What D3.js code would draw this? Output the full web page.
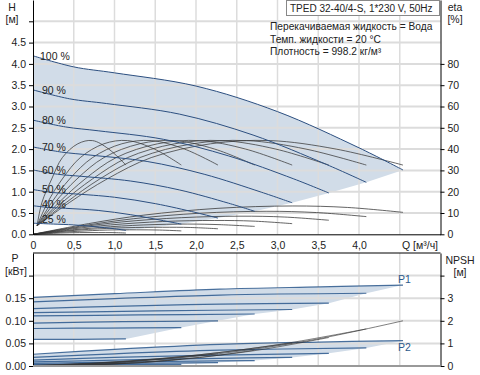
<!DOCTYPE html>
<html>
<head>
<meta charset="utf-8">
<script src="https://cdn.jsdelivr.net/npm/d3@7"></script>
<style>
body{margin:0;background:#fff;}
svg text{font-family:"Liberation Sans",Arial,sans-serif;font-size:10.5px;fill:#222;}
svg text.info{font-size:10.2px;}
</style>
</head>
<body>
<div id="chart"></div>
<script>
// speed labels, top to bottom
const speedLabels = ['100 %','90 %','80 %','70 %','60 %','50 %','40 %','25 %'];

// head curves H [m] vs Q [m3/h]
const head100 = [[0,4.19],[0.5,3.93],[1,3.79],[2,3.48],[3,2.88],[4,2.03],[4.54,1.51]];
const head90  = [[0,3.39],[0.45,3.18],[0.9,3.07],[1.8,2.82],[2.7,2.33],[3.6,1.64],[4.09,1.22]];
const head80  = [[0,2.68],[0.4,2.52],[0.8,2.43],[1.6,2.23],[2.4,1.84],[3.2,1.30],[3.63,0.97]];
const head70  = [[0,2.05],[0.35,1.93],[0.7,1.86],[1.4,1.71],[2.1,1.41],[2.8,0.99],[3.18,0.74]];
const head60  = [[0,1.51],[0.3,1.41],[0.6,1.36],[1.2,1.25],[1.8,1.04],[2.4,0.73],[2.72,0.54]];
const head50  = [[0,1.05],[0.25,0.98],[0.5,0.95],[1,0.87],[1.5,0.72],[2,0.51],[2.27,0.38]];
const head40  = [[0,0.67],[0.2,0.63],[0.4,0.61],[0.8,0.56],[1.2,0.46],[1.6,0.32],[1.82,0.24]];
const head25  = [[0,0.26],[0.13,0.25],[0.25,0.24],[0.5,0.22],[0.75,0.18],[1,0.13],[1.14,0.09]];

// pump efficiency eta [%]
const etaPump100 = [[0.05,4],[0.45,15],[0.91,26],[1.45,36],[2.18,42.5],[2.91,44],[3.72,40],[4.54,32.5]];
const etaPump90  = [[0.05,4],[0.41,15],[0.82,26],[1.31,36],[1.96,42.5],[2.62,44],[3.35,40],[4.09,32.5]];
const etaPump80  = [[0.05,4],[0.36,15],[0.73,26],[1.16,36],[1.74,42.5],[2.32,44],[2.98,40],[3.63,32.5]];
const etaPump70  = [[0.05,4],[0.32,15],[0.64,26],[1.02,36],[1.53,42.5],[2.04,44],[2.61,40],[3.18,32.5]];
const etaPump60  = [[0.05,4],[0.27,15],[0.54,26],[0.87,36],[1.31,42.5],[1.74,44],[2.23,40],[2.72,32.5]];
const etaPump50  = [[0.05,4],[0.23,15],[0.45,26],[0.73,36],[1.09,42.5],[1.45,44],[1.86,40],[2.27,32.5]];
const etaPump40  = [[0.05,4],[0.18,15],[0.36,26],[0.58,36],[0.87,42.5],[1.16,44],[1.49,40],[1.82,32.5]];
const etaPump25  = [[0.05,4],[0.11,15],[0.23,26],[0.36,36],[0.55,42.5],[0.73,44],[0.93,40],[1.14,32.5]];

// total efficiency eta [%]
const etaTot100 = [[0,0],[0.68,5],[1.36,9],[2.27,12.2],[3.18,13.3],[3.86,12.6],[4.54,10.3]];
const etaTot90  = [[0,0],[0.61,4],[1.23,7.3],[2.05,9.9],[2.86,10.8],[3.48,10.2],[4.09,8.3]];
const etaTot80  = [[0,0],[0.54,3.2],[1.09,5.8],[1.82,7.8],[2.54,8.5],[3.09,8.1],[3.63,6.6]];
const etaTot70  = [[0,0],[0.48,2.5],[0.95,4.4],[1.59,6],[2.23,6.5],[2.7,6.2],[3.18,5]];
const etaTot60  = [[0,0],[0.41,1.8],[0.82,3.2],[1.36,4.4],[1.9,4.8],[2.31,4.5],[2.72,3.7]];
const etaTot50  = [[0,0],[0.34,1.3],[0.68,2.3],[1.14,3.1],[1.59,3.3],[1.93,3.2],[2.27,2.6]];
const etaTot40  = [[0,0],[0.27,0.8],[0.55,1.4],[0.91,2],[1.27,2.1],[1.55,2],[1.82,1.6]];
const etaTot25  = [[0,0],[0.17,0.3],[0.34,0.6],[0.57,0.8],[0.8,0.8],[0.97,0.8],[1.14,0.6]];

// input power P1 [kW]
const p1_100 = [[0,0.152],[1,0.160],[2.29,0.170],[3.52,0.175],[4.54,0.179]];
const p1_90  = [[0,0.142],[1,0.149],[2.29,0.157],[4.09,0.161]];
const p1_80  = [[0,0.127],[1,0.132],[2.3,0.137],[3.63,0.139]];
const p1_70  = [[0,0.118],[1.5,0.122],[3.18,0.125]];
const p1_60  = [[0,0.111],[1.3,0.113],[2.72,0.115]];
const p1_50  = [[0,0.095],[1.1,0.098],[2.27,0.100]];
const p1_40  = [[0,0.083],[0.9,0.084],[1.82,0.085]];
const p1_25  = [[0,0.059],[0.57,0.059],[1.14,0.060]];

// shaft power P2 [kW]
const p2_100 = [[0,0.026],[1,0.037],[2.29,0.048],[3.5,0.053],[4.54,0.056]];
const p2_90  = [[0,0.019],[1,0.027],[2.29,0.035],[4.09,0.040]];
const p2_80  = [[0,0.013],[1,0.019],[2.29,0.024],[3.63,0.028]];
const p2_70  = [[0,0.009],[1,0.013],[2.29,0.017],[3.18,0.019]];
const p2_60  = [[0,0.0056],[1,0.0085],[2,0.011],[2.72,0.012]];
const p2_50  = [[0,0.0033],[1,0.0055],[2.27,0.0075]];
const p2_40  = [[0,0.0017],[1,0.003],[1.82,0.0038]];
const p2_25  = [[0,0.0004],[0.6,0.0007],[1.14,0.0009]];

// NPSH [m]
const npsh100 = [[0,0],[1.14,0.18],[2.27,0.54],[3.41,1.14],[4.54,2.0]];
const npsh90  = [[0,0.02],[1.02,0.19],[2.05,0.5],[3.07,0.98],[4.09,1.64]];
const npsh80  = [[0,0],[0.91,0.1],[1.82,0.31],[2.72,0.68],[3.63,1.26]];
const npsh70  = [[0,0.02],[0.8,0.13],[1.59,0.33],[2.39,0.64],[3.18,1.02]];
const npsh60  = [[0,0],[0.68,0.05],[1.36,0.16],[2.04,0.37],[2.72,0.7]];
const npsh50  = [[0,0.02],[0.57,0.08],[1.14,0.19],[1.7,0.35],[2.27,0.54]];
const npsh40  = [[0,0],[0.46,0.02],[0.91,0.07],[1.37,0.16],[1.82,0.3]];
const npsh25  = [[0,0],[0.29,0.01],[0.57,0.03],[0.86,0.07],[1.14,0.13]];

// axis ticks
const flowTicks  = [0,0.5,1,1.5,2,2.5,3,3.5,4];
const flowGrid   = [0.5,1,1.5,2,2.5,3,3.5,4,4.5];
const headTicks  = [0,0.5,1,1.5,2,2.5,3,3.5,4,4.5,5];
const etaTicks   = [0,10,20,30,40,50,60,70,80];
const powerTicks = [0,0.05,0.1,0.15,0.2];
const npshTicks  = [0,1,2,3,4];

const infoLines = ['Перекачиваемая жидкость = Вода','Темп. жидкости = 20 °C','Плотность = 998.2 кг/м³'];

const headCurves = [head100,head90,head80,head70,head60,head50,head40,head25];
const etaPumpCurves = [etaPump100,etaPump90,etaPump80,etaPump70,etaPump60,etaPump50,etaPump40,etaPump25];
const etaTotCurves = [etaTot100,etaTot90,etaTot80,etaTot70,etaTot60,etaTot50,etaTot40,etaTot25];
const p1Curves = [p1_100,p1_90,p1_80,p1_70,p1_60,p1_50,p1_40,p1_25];
const p2Curves = [p2_100,p2_90,p2_80,p2_70,p2_60,p2_50,p2_40,p2_25];
const npshCurves = [npsh100,npsh90,npsh80,npsh70,npsh60,npsh50,npsh40,npsh25];

const width = 480, height = 375;
const svg = d3.select('#chart').append('svg')
    .attr('width', width).attr('height', height);

// scales
const x    = d3.scaleLinear([0,5],[33,440.5]);
const yH   = d3.scaleLinear([0,5.5],[234.3,0]);
const yEta = d3.scaleLinear([0,110],[234.3,0]);
const yP   = d3.scaleLinear([0,0.25],[366,253]);
const yN   = d3.scaleLinear([0,5],[366,253]);

const lineGen = (sy)=>d3.line().x(d=>x(d[0])).y(d=>sy(d[1])).curve(d3.curveCatmullRom.alpha(0.5));

// band between top curve, the end points of the middle curves and the bottom curve
function bandPath(curves, sy){
    const top = lineGen(sy)(curves[0]);
    const mid = curves.slice(1,-1).map(c=>c[c.length-1])
        .map(d=>`L${x(d[0])},${sy(d[1])}`).join('');
    const bottom = lineGen(sy)(curves[curves.length-1].slice().reverse()).replace(/^M/,'L');
    return top+mid+bottom+'Z';
}

const fillColor = '#d1dce8';

// fills
svg.append('path').attr('d', bandPath(headCurves, yH)).attr('fill', fillColor);
svg.append('path').attr('d', bandPath(p1Curves, yP)).attr('fill', fillColor);
svg.append('path').attr('d', bandPath(p2Curves, yP)).attr('fill', fillColor);

// grid
const grid = svg.append('g').attr('stroke','#dcdcdc');
grid.selectAll('line.vt').data(flowGrid).join('line')
    .attr('x1',d=>x(d)).attr('x2',d=>x(d)).attr('y1',0).attr('y2',yH(0))
    .attr('stroke-width',1.5);
grid.selectAll('line.vb').data(flowGrid).join('line')
    .attr('x1',d=>x(d)).attr('x2',d=>x(d)).attr('y1',yP(0.25)).attr('y2',yP(0))
    .attr('stroke-width',1.5);
grid.selectAll('line.ht').data(headTicks.slice(1)).join('line')
    .attr('x1',x(0)).attr('x2',x(5)).attr('y1',d=>yH(d)).attr('y2',d=>yH(d))
    .attr('stroke-width',2);
grid.selectAll('line.hb').data(powerTicks.slice(1)).join('line')
    .attr('x1',x(0)).attr('x2',x(5)).attr('y1',d=>yP(d)).attr('y2',d=>yP(d))
    .attr('stroke-width',2);

// efficiency curves
svg.append('g').selectAll('path').data(etaTotCurves).join('path')
    .attr('d', lineGen(yEta)).attr('fill','none')
    .attr('stroke','#333').attr('stroke-width',0.9).attr('stroke-opacity',0.85);
svg.append('g').selectAll('path').data(etaPumpCurves).join('path')
    .attr('d', lineGen(yEta)).attr('fill','none')
    .attr('stroke','#3a3a3a').attr('stroke-width',0.9).attr('stroke-opacity',0.85);

// head curves
svg.append('g').selectAll('path').data(headCurves).join('path')
    .attr('d', lineGen(yH)).attr('fill','none')
    .attr('stroke','#2c4f80').attr('stroke-width',1);

// speed labels
svg.append('g').selectAll('text').data(headCurves).join('text')
    .attr('x', (d,i)=> i==0 ? 40 : 42)
    .attr('y', d=>yH(d[0][1]) + 4 - Math.max(0, 1.1-d[0][1])*5)
    .text((d,i)=>speedLabels[i]);

// power curves
svg.append('g').selectAll('path').data(p1Curves.concat(p2Curves)).join('path')
    .attr('d', lineGen(yP)).attr('fill','none')
    .attr('stroke','#1f4f86').attr('stroke-width',1.2).attr('stroke-opacity',0.8);

// NPSH curves
svg.append('g').selectAll('path').data(npshCurves).join('path')
    .attr('d', lineGen(yN)).attr('fill','none')
    .attr('stroke','#333').attr('stroke-width',0.7).attr('stroke-opacity',0.9);

// axes
const fmtDot = d3.format('.1f');
const axL = svg.append('g').attr('transform',`translate(${x(0)},0)`)
    .call(d3.axisLeft(yH).tickValues(headTicks).tickSize(4).tickSizeOuter(0)
        .tickFormat(d=>d==5?'':fmtDot(d)));
const axR = svg.append('g').attr('transform',`translate(${x(5)},0)`)
    .call(d3.axisRight(yEta).tickValues(etaTicks).tickSize(4).tickSizeOuter(0));
const axB = svg.append('g').attr('transform',`translate(0,${yH(0)})`)
    .call(d3.axisBottom(x).tickValues(flowTicks).tickSize(0).tickPadding(7)
        .tickFormat(d=>d==0?'0':fmtDot(d).replace('.',',')));
const axPL = svg.append('g').attr('transform',`translate(${x(0)},0)`)
    .call(d3.axisLeft(yP).tickValues(powerTicks).tickSize(4).tickSizeOuter(0)
        .tickFormat(d=>d==0.2?'':d3.format('.2f')(d)));
const axPR = svg.append('g').attr('transform',`translate(${x(5)},0)`)
    .call(d3.axisRight(yN).tickValues(npshTicks).tickSize(4).tickSizeOuter(0)
        .tickFormat(d=>d==4?'':d));
[axL,axR,axB,axPL,axPR].forEach(a=>{
    a.selectAll('text').style('font-size','10.5px').attr('fill','#222');
    a.select('.domain').attr('stroke','#000');
});

// bottom panel frame
svg.append('line').attr('x1',x(0)).attr('x2',x(5)).attr('y1',yP(0.25)).attr('y2',yP(0.25))
    .attr('stroke','#000');
svg.append('line').attr('x1',x(0)).attr('x2',x(5)).attr('y1',yP(0)).attr('y2',yP(0))
    .attr('stroke','#999').attr('stroke-width',2);

// axis titles
const titles = [
    ['H',12,11],['[м]',12,23],['eta',455,11],['[%]',455,23],
    ['P',15,262],['[кВт]',16,275],['NPSH',460,264],['[м]',460,276]
];
svg.append('g').selectAll('text').data(titles).join('text')
    .attr('x',d=>d[1]).attr('y',d=>d[2]).attr('text-anchor','middle').text(d=>d[0]);
svg.append('text').attr('x',402).attr('y',249).text('Q [м³/ч]');

// curve names
svg.append('text').attr('x',398).attr('y',282.5).style('fill','#2d5a8c').text('P1');
svg.append('text').attr('x',398).attr('y',351).style('fill','#2d5a8c').text('P2');

// legend box
svg.append('rect').attr('x',286.5).attr('y',0.5).attr('width',153).attr('height',15)
    .attr('fill','#fff').attr('stroke','#888');
svg.append('text').attr('class','info').attr('x',290).attr('y',12).style('font-size','10px')
    .text('TPED 32-40/4-S, 1*230 V, 50Hz');
svg.append('g').selectAll('text').data(infoLines).join('text').attr('class','info')
    .attr('x',270).attr('y',(d,i)=>30+i*12.7).text(d=>d);
</script>
</body>
</html>
